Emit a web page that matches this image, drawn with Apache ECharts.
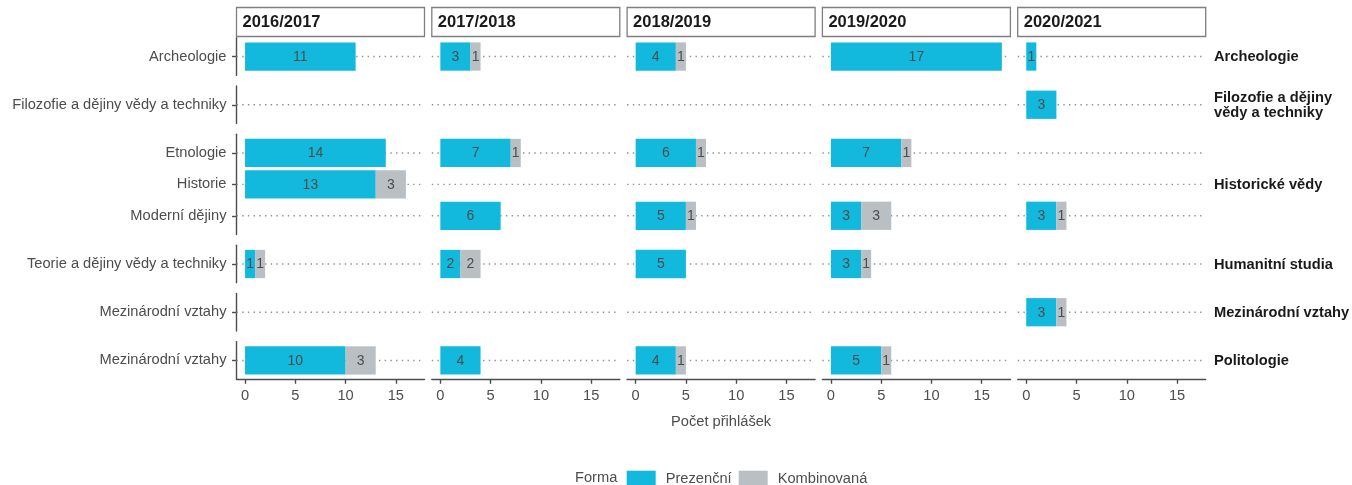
<!DOCTYPE html>
<html>
<head>
<meta charset="utf-8">
<script src="https://cdn.jsdelivr.net/npm/echarts@6/dist/echarts.min.js"></script>
<style>
html,body{margin:0;padding:0;background:#fff;}
#chart{width:1352px;height:485px;}
</style>
</head>
<body>
<div id="chart"></div>
<script>
// ---------------- DATA ----------------
const years = ['2016/2017', '2017/2018', '2018/2019', '2019/2020', '2020/2021'];
const rowFacets = ['Archeologie', 'Filozofie a dějiny\nvědy a techniky', 'Historické vědy', 'Humanitní studia', 'Mezinárodní vztahy', 'Politologie'];
const rowCategories = [
  ['Archeologie'],
  ['Filozofie a dějiny vědy a techniky'],
  ['Etnologie', 'Historie', 'Moderní dějiny'],
  ['Teorie a dějiny vědy a techniky'],
  ['Mezinárodní vztahy'],
  ['Mezinárodní vztahy']
];
// programmes flattened in row order: Archeologie, Filozofie, Etnologie, Historie, Moderní dějiny, Teorie, Mezinárodní vztahy (MV), Mezinárodní vztahy (Politologie)
const prezencni_2016 = [11, null, 14, 13, null, 1, null, 10];
const kombinovana_2016 = [null, null, null, 3, null, 1, null, 3];
const prezencni_2017 = [3, null, 7, null, 6, 2, null, 4];
const kombinovana_2017 = [1, null, 1, null, null, 2, null, null];
const prezencni_2018 = [4, null, 6, null, 5, 5, null, 4];
const kombinovana_2018 = [1, null, 1, null, 1, null, null, 1];
const prezencni_2019 = [17, null, 7, null, 3, 3, null, 5];
const kombinovana_2019 = [null, null, 1, null, 3, 1, null, 1];
const prezencni_2020 = [1, 3, null, null, 3, null, 3, null];
const kombinovana_2020 = [null, null, null, null, 1, null, 1, null];
const xTicks = [0, 5, 10, 15];
const legendNames = ['Prezenční', 'Kombinovaná'];
const legendTitle = 'Forma';
const xTitle = 'Počet přihlášek';

const prezencni = [prezencni_2016, prezencni_2017, prezencni_2018, prezencni_2019, prezencni_2020];
const kombinovana = [kombinovana_2016, kombinovana_2017, kombinovana_2018, kombinovana_2019, kombinovana_2020];

// ---------------- STYLE / LAYOUT ----------------
const FONT = '"Liberation Sans", Arial, Helvetica, sans-serif';
const C_PREZ = '#12B9DD';
const C_KOMB = '#B9BFC3';
const AX = '#4d4d4d';
const panelLeft0 = 236.5, panelW = 188, colStep = 195.3;
const rowTop0 = 37.7, unit = 31.4, rowGap = 10.54;
const xMin = -0.85, xMax = 17.85;

const chart = echarts.init(document.getElementById('chart'), null, {renderer: 'canvas'});

const grids = [], xAxes = [], yAxes = [], series = [], graphics = [];

const rowTops = [];
let t = rowTop0;
rowCategories.forEach((cats) => {
  rowTops.push(t);
  t += (cats.length + 0.2) * unit + rowGap;
});

function barRender(params, api) {
  const x0 = api.value(0), x1 = api.value(1), yi = api.value(2), v = api.value(3);
  const p0 = api.coord([x0, yi]);
  const p1 = api.coord([x1, yi]);
  const h = Math.abs(api.size([0, 0.9])[1]);
  return {
    type: 'group',
    children: [
      {type: 'rect', shape: {x: p0[0], y: p0[1] - h / 2, width: p1[0] - p0[0], height: h},
        style: {fill: api.visual('color')}},
      {type: 'text', z2: 10, style: {text: String(v), x: (p0[0] + p1[0]) / 2, y: p0[1] + 0.5,
        align: 'center', verticalAlign: 'middle', font: '14px ' + FONT, fill: '#4d4d4d'}}
    ]
  };
}

function guideRender(params, api) {
  const yi = api.value(0);
  const a = api.coord([xMin, yi]);
  const b = api.coord([xMax, yi]);
  return {type: 'line', shape: {x1: a[0], y1: a[1], x2: b[0], y2: b[1]},
    style: {stroke: '#8f8f8f', lineWidth: 1.4, lineDash: [1.4, 4.3]}};
}

let progOffset = 0;
rowCategories.forEach((cats, r) => {
  const n = cats.length;
  const top = rowTops[r];
  const height = (n + 0.2) * unit;
  years.forEach((yr, c) => {
    const gi = grids.length;
    const left = panelLeft0 + c * colStep;
    grids.push({left: left, top: top, width: panelW, height: height, containLabel: false});
    const isBottom = r === rowCategories.length - 1;
    xAxes.push({
      type: 'value', gridIndex: gi, min: xMin, max: xMax, position: 'bottom',
      show: isBottom,
      axisLine: {show: true, onZero: false, lineStyle: {color: AX, width: 1.4}},
      axisTick: {show: true, length: 4.5, customValues: xTicks, lineStyle: {color: AX, width: 1.4}},
      axisLabel: {show: true, customValues: xTicks, margin: 9, fontSize: 14.67, color: AX, fontFamily: FONT},
      splitLine: {show: false}
    });
    const idx = cats.map((_, i) => i);
    yAxes.push({
      type: 'value', gridIndex: gi, inverse: true, min: -0.6, max: n - 1 + 0.6, position: 'left',
      show: c === 0,
      axisLine: {show: true, onZero: false, lineStyle: {color: AX, width: 1.4}},
      axisTick: {show: true, length: 4.5, customValues: idx, lineStyle: {color: AX, width: 1.4}},
      axisLabel: {show: true, customValues: idx, margin: 10, fontSize: 14.67, color: AX, fontFamily: FONT,
        formatter: (v) => cats[Math.round(v)]},
      splitLine: {show: false}
    });
    series.push({
      type: 'custom', name: '_guide', xAxisIndex: gi, yAxisIndex: gi, silent: true, z: 1,
      renderItem: guideRender, data: idx.map(i => [i]), encode: {y: 0}
    });
    const pData = [], kData = [];
    for (let i = 0; i < n; i++) {
      const pv = prezencni[c][progOffset + i];
      const kv = kombinovana[c][progOffset + i];
      const p = pv || 0;
      if (pv) pData.push([0, p, i, pv]);
      if (kv) kData.push([p, p + kv, i, kv]);
    }
    series.push({
      type: 'custom', name: legendNames[0], xAxisIndex: gi, yAxisIndex: gi, z: 3,
      itemStyle: {color: C_PREZ}, renderItem: barRender, data: pData, encode: {x: [0, 1], y: 2}
    });
    series.push({
      type: 'custom', name: legendNames[1], xAxisIndex: gi, yAxisIndex: gi, z: 3,
      itemStyle: {color: C_KOMB}, renderItem: barRender, data: kData, encode: {x: [0, 1], y: 2}
    });
  });
  graphics.push({
    type: 'text', left: 1214, top: top + height / 2 - (rowFacets[r].includes('\n') ? 15.5 : 7.75) + 0.5,
    style: {text: rowFacets[r], font: 'bold 14.67px ' + FONT, fill: '#1a1a1a', lineHeight: 15.5,
      textAlign: 'left', textVerticalAlign: 'top'}
  });
  progOffset += n;
});

years.forEach((yr, c) => {
  const left = panelLeft0 + c * colStep;
  graphics.push({type: 'rect', shape: {x: left, y: 7.5, width: panelW, height: 29},
    style: {fill: '#ffffff', stroke: '#7f7f7f', lineWidth: 1.3}, z: 10});
  graphics.push({type: 'text', x: left + 6, y: 22.5, z: 11,
    style: {text: yr, font: 'bold 16.5px ' + FONT, fill: '#1a1a1a', align: 'left', verticalAlign: 'middle',
      textAlign: 'left', textVerticalAlign: 'middle'}});
});

graphics.push({type: 'text', x: 721.1, y: 421.5,
  style: {text: xTitle, font: '14.67px ' + FONT, fill: AX, align: 'center', verticalAlign: 'middle',
    textAlign: 'center', textVerticalAlign: 'middle'}});
graphics.push({type: 'text', x: 575, y: 478.2,
  style: {text: legendTitle, font: '14.67px ' + FONT, fill: AX, align: 'left', verticalAlign: 'middle',
    textAlign: 'left', textVerticalAlign: 'middle'}});

chart.setOption({
  animation: false,
  backgroundColor: '#ffffff',
  textStyle: {fontFamily: FONT},
  grid: grids,
  xAxis: xAxes,
  yAxis: yAxes,
  series: series,
  legend: {
    data: legendNames, icon: 'rect', left: 626.7, top: 470.7, orient: 'horizontal', padding: 0,
    itemWidth: 29, itemHeight: 16, itemGap: 7, selectedMode: false,
    textStyle: {fontSize: 14.67, color: AX, fontFamily: FONT, padding: [0, 0, 0, 5], lineHeight: 16}
  },
  graphic: graphics
});
</script>
</body>
</html>
